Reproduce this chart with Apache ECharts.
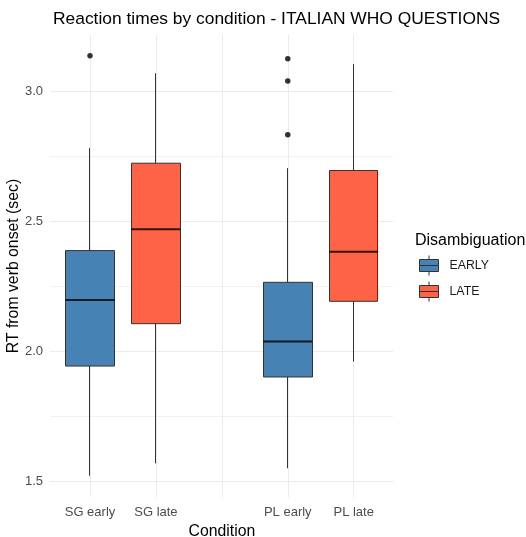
<!DOCTYPE html>
<html><head><meta charset="utf-8">
<script src="https://cdn.jsdelivr.net/npm/echarts@6/dist/echarts.min.js"></script>
<style>html,body{margin:0;padding:0;background:#fff}#c{width:526px;height:537px}</style>
</head><body><div id="c"></div>
<script>
const categories = ['SG early', 'SG late', '', 'PL early', 'PL late'];
const yTicks = [1.5, 2.0, 2.5, 3.0];
// [category, whiskerLow, Q1, median, Q3, whiskerHigh]
const earlyBoxes = [
  ['SG early', 1.520, 1.942, 2.196, 2.386, 2.780],
  ['PL early', 1.549, 1.900, 2.036, 2.264, 2.703]
];
const lateBoxes = [
  ['SG late', 1.568, 2.105, 2.468, 2.722, 3.068],
  ['PL late', 1.959, 2.191, 2.382, 2.694, 3.103]
];
const outliers = [
  ['SG early', 3.135],
  ['PL early', 3.124],
  ['PL early', 3.038],
  ['PL early', 2.831]
];
const colors = { EARLY: '#4682B4', LATE: '#FF6347' };

const FONT = "'Liberation Sans', Arial, sans-serif";
const Y_MIN = 1.4385, Y_MAX = 3.215;
const BOX_W = 49;

const toCandle = b => [b[0], b[2], b[4], b[1], b[5]];
const toMedian = b => [b[0], b[3]];
const legendIcon = 'path://M0,4 L19,4 L19,16 L0,16 Z M0,10 L19,10 M9.5,0 L9.5,4 M9.5,16 L9.5,20';

function candleSeries(name, boxes) {
  return {
    type: 'candlestick', name, xAxisIndex: 1, yAxisIndex: 1,
    barWidth: BOX_W, clip: false, z: 3,
    encode: { x: 0, y: [1, 2, 3, 4] },
    itemStyle: { color: colors[name], color0: colors[name], borderColor: '#333333', borderColor0: '#333333', borderWidth: 1 },
    emphasis: { disabled: true },
    data: boxes.map(toCandle)
  };
}

const chart = echarts.init(document.getElementById('c'), null, { renderer: 'canvas' });
chart.setOption({
  animation: false,
  backgroundColor: '#ffffff',
  textStyle: { fontFamily: FONT },
  title: [
    { text: 'Reaction times by condition - ITALIAN WHO QUESTIONS', left: 53, top: 11, padding: 0,
      textStyle: { fontFamily: FONT, fontSize: 17.4, fontWeight: 'normal', color: '#000000' } },
    { text: 'Disambiguation', left: 415, top: 233, padding: 0,
      textStyle: { fontFamily: FONT, fontSize: 16, fontWeight: 'normal', color: '#000000' } }
  ],
  legend: {
    orient: 'vertical', left: 419, top: 255, padding: 0,
    itemWidth: 19, itemHeight: 20, itemGap: 5,
    selectedMode: false,
    textStyle: { fontFamily: FONT, fontSize: 12.3, color: '#1a1a1a', padding: [0, 0, 0, 6] },
    data: ['EARLY', 'LATE'].map(n => ({ name: n, icon: legendIcon,
      itemStyle: { color: colors[n], borderColor: '#333333', borderWidth: 1 } }))
  },
  grid: [
    { left: 50, right: 133, top: 91, bottom: 56, outerBoundsMode: 'none', containLabel: false },
    { left: 90, right: 172.3, top: 35, bottom: 40, outerBoundsMode: 'none', containLabel: false }
  ],
  xAxis: [
    { type: 'value', gridIndex: 0, show: false, min: 0, max: 1 },
    { type: 'category', gridIndex: 1, data: categories, boundaryGap: false,
      axisLine: { show: false }, axisTick: { show: false },
      axisLabel: { interval: 0, margin: 9, fontFamily: FONT, fontSize: 13, color: '#4d4d4d' },
      splitLine: { show: true, interval: 0, lineStyle: { color: '#ebebeb', width: 1 } },
      name: 'Condition', nameLocation: 'middle', nameGap: 25,
      nameTextStyle: { fontFamily: FONT, fontSize: 15.8, color: '#000000' } }
  ],
  yAxis: [
    { type: 'value', gridIndex: 0, min: yTicks[0], max: yTicks[yTicks.length - 1], interval: 0.5,
      axisLine: { show: false }, axisTick: { show: false },
      axisLabel: { margin: 7, fontFamily: FONT, fontSize: 13, color: '#4d4d4d', formatter: v => v.toFixed(1) },
      splitLine: { show: true, lineStyle: { color: '#ebebeb', width: 1 } },
      minorTick: { show: false, splitNumber: 2 },
      minorSplitLine: { show: true, lineStyle: { color: '#f2f2f2', width: 1 } } },
    { type: 'value', gridIndex: 1, min: Y_MIN, max: Y_MAX,
      axisLine: { show: false }, axisTick: { show: false }, axisLabel: { show: false },
      splitLine: { show: false },
      name: 'RT from verb onset (sec)', nameLocation: 'middle', nameGap: 68,
      nameTextStyle: { fontFamily: FONT, fontSize: 15.8, color: '#000000' } }
  ],
  series: [
    candleSeries('EARLY', earlyBoxes),
    candleSeries('LATE', lateBoxes),
    { type: 'scatter', name: 'median', xAxisIndex: 1, yAxisIndex: 1, clip: false, z: 4,
      symbol: 'rect', symbolSize: [BOX_W, 2], itemStyle: { color: '#000000' },
      emphasis: { disabled: true }, silent: true,
      data: earlyBoxes.concat(lateBoxes).map(toMedian) },
    { type: 'scatter', name: 'outliers', xAxisIndex: 1, yAxisIndex: 1, clip: false, z: 4,
      symbol: 'circle', symbolSize: 5.5, itemStyle: { color: '#000000' },
      emphasis: { disabled: true }, silent: true,
      data: outliers }
  ]
});
</script></body></html>
